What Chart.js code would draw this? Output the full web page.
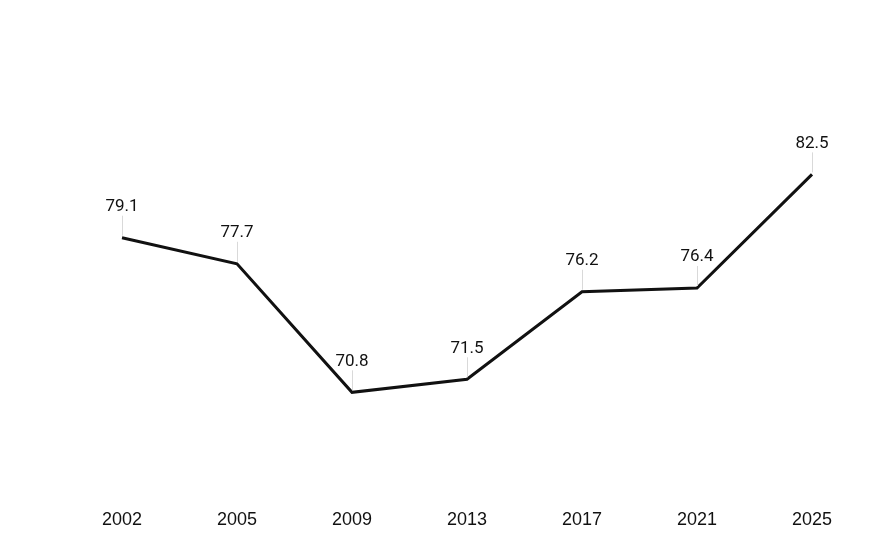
<!DOCTYPE html>
<html>
<head>
<meta charset="utf-8">
<script src="https://cdn.jsdelivr.net/npm/chart.js@4.4.1/dist/chart.umd.min.js"></script>
<style>
  html, body { margin: 0; padding: 0; background: #fff; }
  #wrap { width: 896px; height: 554px; }
</style>
</head>
<body>
<div id="wrap"><canvas id="chart"></canvas></div>
<script>
// Data
const years = ['2002', '2005', '2009', '2013', '2017', '2021', '2025'];
const values = [79.1, 77.7, 70.8, 71.5, 76.2, 76.4, 82.5];

// labels above each point with a thin leader line
const pointLabels = {
    id: 'pointLabels',
    afterDatasetsDraw(chart) {
        const ctx = chart.ctx;
        const meta = chart.getDatasetMeta(0);
        ctx.save();
        meta.data.forEach((pt, i) => {
            ctx.strokeStyle = '#d9d9d9';
            ctx.lineWidth = 1;
            ctx.beginPath();
            ctx.moveTo(Math.round(pt.x) + 0.5, pt.y - 2);
            ctx.lineTo(Math.round(pt.x) + 0.5, pt.y - 22);
            ctx.stroke();
            ctx.fillStyle = '#111';
            ctx.font = '17px Roboto';
            ctx.textAlign = 'center';
            ctx.textBaseline = 'middle';
            ctx.fillText(values[i].toFixed(1), pt.x, pt.y - 31);
        });
        ctx.restore();
    }
};

new Chart(document.getElementById('chart'), {
    type: 'line',
    data: {
        labels: years,
        datasets: [{
            data: values,
            borderColor: '#111',
            borderWidth: 3,
            pointRadius: 0,
            tension: 0,
            fill: false
        }]
    },
    options: {
        responsive: true,
        maintainAspectRatio: false,
        animation: false,
        layout: { padding: { left: 122, right: 84, top: 16, bottom: 14 } },
        plugins: { legend: { display: false }, tooltip: { enabled: false } },
        scales: {
            x: {
                offset: false,
                grid: { display: false, drawTicks: false },
                border: { display: false },
                ticks: { color: '#111', font: { family: 'Liberation Sans', size: 18 }, padding: 9, maxRotation: 0 }
            },
            y: {
                display: false,
                min: 65,
                max: 91
            }
        }
    },
    plugins: [pointLabels]
});
</script>
</body>
</html>
